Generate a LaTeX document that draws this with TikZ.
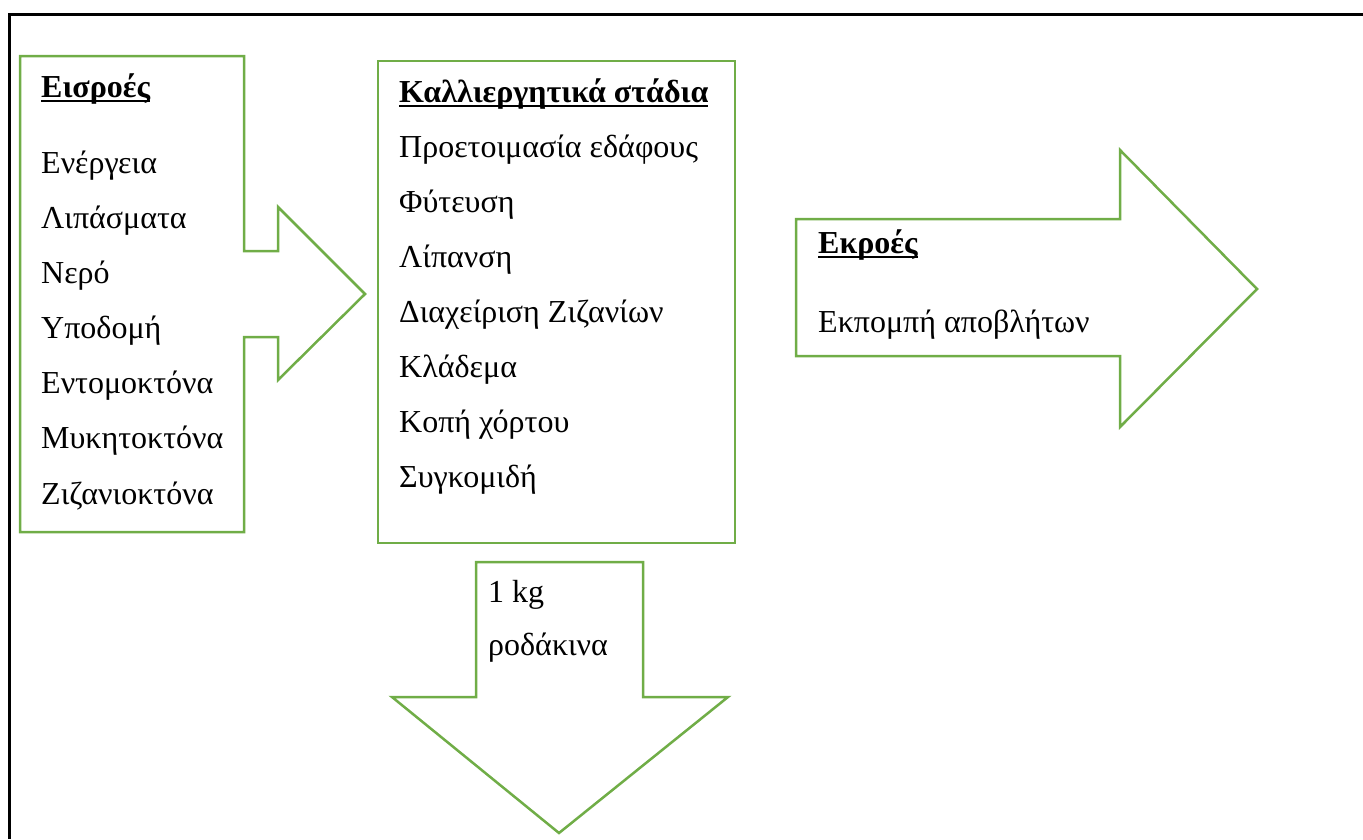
\documentclass[tikz,border=0pt]{standalone}
\usepackage{fontspec}
\setmainfont{Liberation Serif}
\definecolor{leafgreen}{HTML}{70AD47}
\newcommand{\hdr}[1]{\setbox0\hbox{\bfseries #1}\rlap{\rule[-5pt]{\wd0}{2.5pt}}\box0}

\begin{document}
\begin{tikzpicture}[x=1pt,y=-1pt,
		box/.style={draw=leafgreen,line width=2.5pt,line join=miter},
		txt/.style={anchor=base west,inner sep=0pt,font=\fontsize{32}{38}\selectfont}]
		\useasboundingbox (0,0) rectangle (1363,839);
		\draw[line width=3pt] (9,839) -- (9,14) -- (1363,14);

		% inputs
		\draw[box] (20,56) -- (244,56) -- (244,251) -- (278,251) -- (278,207) -- (365,294)
		  -- (278,380) -- (278,337) -- (244,337) -- (244,532) -- (20,532) -- cycle;
		\node[txt] (in) at (41,97) {\hdr{Εισροές}};
		\node[txt] (in1) at (41,173) {Ενέργεια};
		\node[txt] (in2) at (41,228) {Λιπάσματα};
		\node[txt] (in3) at (41,283) {Νερό};
		\node[txt] (in4) at (41,338) {Υποδομή};
		\node[txt] (in5) at (41,393) {Εντομοκτόνα};
		\node[txt] (in6) at (41,448) {Μυκητοκτόνα};
		\node[txt] (in7) at (41,504) {Ζιζανιοκτόνα};

		% stages
		\draw[box] (378,61) rectangle (735,543);
		\node[txt] (st) at (399,102) {\hdr{Καλλιεργητικά στάδια}};
		\node[txt] (st1) at (399,157) {Προετοιμασία εδάφους};
		\node[txt] (st2) at (399,212) {Φύτευση};
		\node[txt] (st3) at (399,267) {Λίπανση};
		\node[txt] (st4) at (399,322) {Διαχείριση Ζιζανίων};
		\node[txt] (st5) at (399,377) {Κλάδεμα};
		\node[txt] (st6) at (399,432) {Κοπή χόρτου};
		\node[txt] (st7) at (399,487) {Συγκομιδή};

		% product
		\draw[box] (476,562) -- (643,562) -- (643,697) -- (728,697) -- (559,833)
		  -- (392,697) -- (476,697) -- cycle;
		\node[txt] (pr1) at (488,602) {1 kg};
		\node[txt] (pr2) at (488,655) {ροδάκινα};

		% outputs
		\draw[box] (796,219) -- (1120,219) -- (1120,150) -- (1257,289) -- (1120,427)
		  -- (1120,356) -- (796,356) -- cycle;
		\node[txt] (out) at (818,253) {\hdr{Εκροές}};
		\node[txt] (out1) at (818,332) {Εκπομπή αποβλήτων};

\end{tikzpicture}
\end{document}
